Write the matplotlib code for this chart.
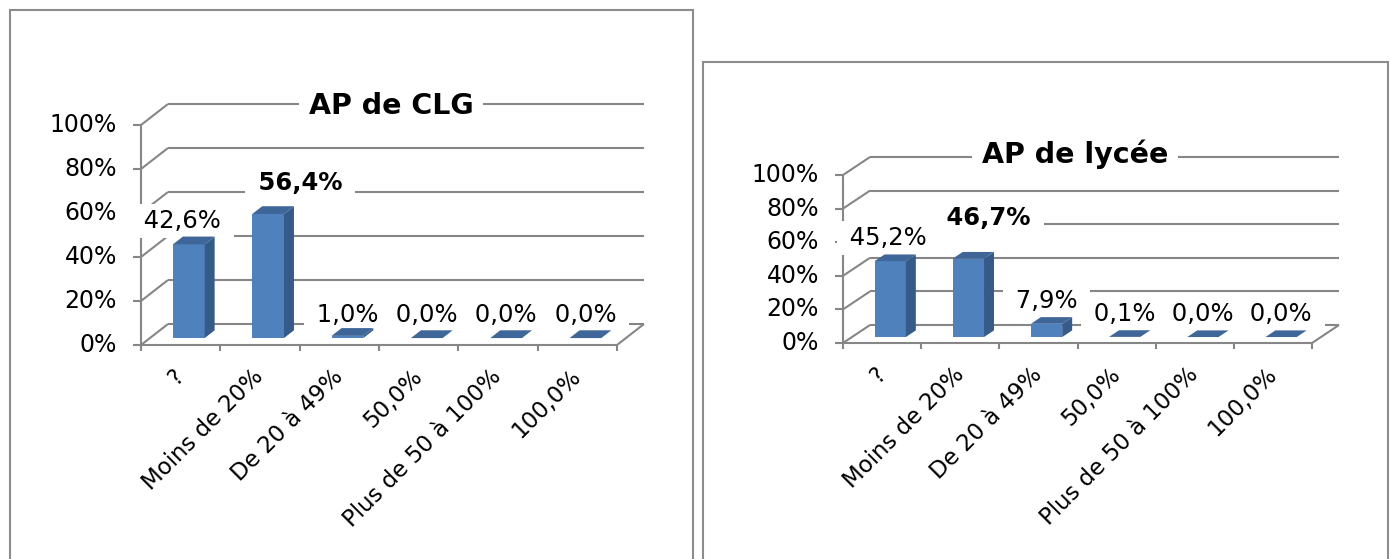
import matplotlib
matplotlib.use("Agg")
import matplotlib.pyplot as plt
from matplotlib.patches import Polygon, Rectangle
from matplotlib.transforms import offset_copy

W, H = 1390, 559

categories = ["?", "Moins de 20%", "De 20 à 49%", "50,0%", "Plus de 50 à 100%", "100,0%"]
clg_values = [42.6, 56.4, 1.0, 0.0, 0.0, 0.0]
lycee_values = [45.2, 46.7, 7.9, 0.1, 0.0, 0.0]
y_ticks = [0, 20, 40, 60, 80, 100]
titles = ["AP de CLG", "AP de lycée"]

GRID = "#868686"
FRONT = "#4F81BD"
SIDE = "#375B89"
TOP = "#3E6699"

plt.rcParams["font.family"] = ["DejaVu Sans"]


def frac(x, y):
    return x / W, 1 - y / H


def pct(v):
    # padded with spaces so the white label boxes are wide but not tall
    return " " + f"{v:.1f}%".replace(".", ",") + " "


def draw_panel(fig, values, title, box, front, depth, title_xy, nudges):
    # front plane: x pixels at category 0 and 6, y pixels at 0% and 100%
    x0, x6, y0, y100 = front
    l, b = frac(x0, y0)
    r, t = frac(x6, y100)
    ax = fig.add_axes([l, b, r - l, t - b])
    ax.set_xlim(0, 6)
    ax.set_ylim(0, 100)
    ax.axis("off")

    px_x = (x6 - x0) / 6.0      # pixels per category
    px_y = (y0 - y100) / 100.0  # pixels per percent
    ddx = depth[0] / px_x
    ddy = depth[1] / px_y       # depth goes up the screen
    tick_x = 8 / px_x
    tick_y = 6 / px_y

    kw = dict(color=GRID, lw=1.5, clip_on=False, zorder=1, solid_capstyle="butt")
    # back wall gridlines, side wall diagonals and y ticks
    for lv in y_ticks:
        ax.plot([ddx, 6 + ddx], [lv + ddy, lv + ddy], **kw)
        ax.plot([0, ddx], [lv, lv + ddy], **kw)
        ax.plot([-tick_x, 0], [lv, lv], **kw)
        ax.text(-tick_x - 16 / px_x, lv, f"{lv}%", ha="right", va="center",
                fontsize=17, color="black")
    ax.plot([0, 0], [0, 100], **kw)
    # floor
    ax.plot([0, 6], [0, 0], **kw)
    ax.plot([6, 6 + ddx], [0, ddy], **kw)
    for i in range(7):
        ax.plot([i, i], [0, -tick_y], **kw)

    # 3D bars
    d0, d1 = 0.33, 0.70
    for i, v in enumerate(values):
        xa, xb = i + 0.29, i + 0.69
        fx0, fy0 = d0 * ddx, d0 * ddy
        fx1, fy1 = d1 * ddx, d1 * ddy
        if v > 0.3:
            ax.add_patch(Polygon([(xa + fx0, fy0), (xb + fx0, fy0),
                                  (xb + fx0, v + fy0), (xa + fx0, v + fy0)],
                                 closed=True, fc=FRONT, ec="none", zorder=4, clip_on=False))
            ax.add_patch(Polygon([(xb + fx0, fy0), (xb + fx1, fy1),
                                  (xb + fx1, v + fy1), (xb + fx0, v + fy0)],
                                 closed=True, fc=SIDE, ec="none", zorder=4, clip_on=False))
        ax.add_patch(Polygon([(xa + fx0, v + fy0), (xb + fx0, v + fy0),
                              (xb + fx1, v + fy1), (xa + fx1, v + fy1)],
                             closed=True, fc=TOP, ec="none", zorder=4, clip_on=False))

        # value label above the bar, on an opaque white box
        nx, ny = nudges[i]
        tr = offset_copy(ax.transData, fig=fig, x=nx, y=23 - ny, units="dots")
        bold = v == max(values)
        ax.text((xa + xb) / 2 + fx0, v + fy0, pct(v), transform=tr,
                ha="center", va="center", fontsize=17.5,
                fontweight="bold" if bold else "normal", zorder=3,
                bbox=dict(boxstyle="square,pad=0.2", fc="white", ec="none"))

        # rotated category label
        tr2 = offset_copy(ax.transData, fig=fig, x=-8, y=-20, units="dots")
        ax.text(i + 0.5, 0, categories[i], transform=tr2, rotation=45,
                rotation_mode="anchor", ha="right", va="top", fontsize=16.5)

    tx, ty = frac(*title_xy)
    fig.text(tx, ty, title, ha="center", va="center", fontsize=20.5,
             fontweight="bold", zorder=4,
             bbox=dict(boxstyle="square,pad=0.35", fc="white", ec="none"))

    bx0, by0 = frac(box[0], box[3])
    bx1, by1 = frac(box[2], box[1])
    fig.patches.append(Rectangle((bx0, by0), bx1 - bx0, by1 - by0,
                                 transform=fig.transFigure, fill=False,
                                 ec="#8C8C8C", lw=1.5, zorder=0))


fig = plt.figure(figsize=(W / 100, H / 100), dpi=100)

draw_panel(fig, clg_values, titles[0],
           box=(10, 10, 693, 570), front=(141, 617, 345, 125), depth=(27, 21),
           title_xy=(391, 106),
           nudges=[(-6, 0), (32, -8), (0, 2), (0, 0), (0, 0), (0, 0)])
draw_panel(fig, lycee_values, titles[1],
           box=(703, 62, 1388, 570), front=(843, 1312, 343, 175), depth=(27, 18),
           title_xy=(1075, 154),
           nudges=[(-2, 0), (20, -18), (0, 0), (0, 0), (0, 0), (0, 0)])

fig.savefig("out.png", dpi=100)
